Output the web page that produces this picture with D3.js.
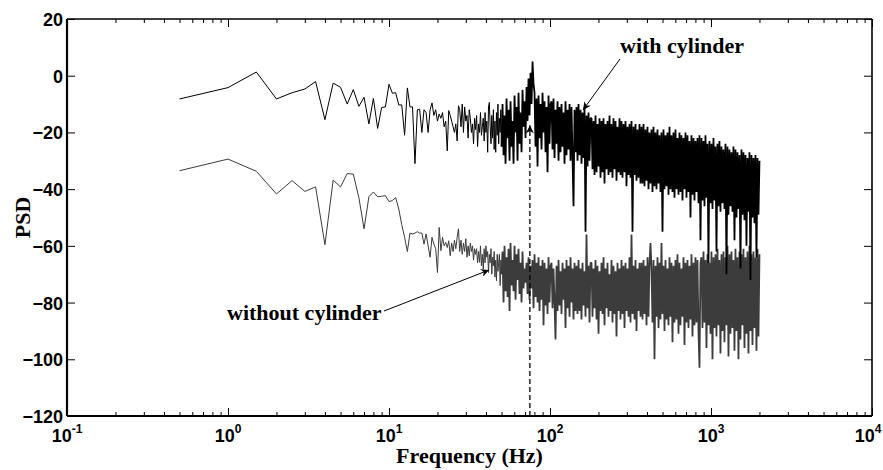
<!DOCTYPE html>
<html>
<head>
<meta charset="utf-8">
<script src="https://cdn.jsdelivr.net/npm/d3@7"></script>
<style>
  body { margin: 0; background: #fff; }
  .tick text { font-family: "Liberation Sans", Arial, sans-serif; font-weight: bold; font-size: 18px; fill: #000; }
  .ttl { font-family: "Liberation Serif", "Times New Roman", serif; font-weight: bold; font-size: 22px; fill: #000; }
</style>
</head>
<body>
<div id="chart"></div>
<script>
// values (PSD in dB)
// low part of the spectrum: 0.5 Hz .. 50 Hz every 0.5 Hz
var lowStep = 0.5;

var withLow = [
  -8.2, -4.2, 1.3, -8.2, -6, -4.7, -2.1, -15.5, -2.6, -4.1,
  -10, -4.9, -10.8, -7.6, -17, -8, -18.6, -11.2, -11, -3,
  -6.2, -6, -10.3, -10.3, -21, -4.3, -11, -11, -31, -12,
  -11.8, -20, -12, -13, -20, -12, -9.6, -14, -12, -16,
  -13.5, -15, -13, -18, -16, -26.5, -12.3, -14, -16, -18,
  -20, -17, -23, -10.6, -12, -18, -10, -20, -11, -16,
  -14, -22, -12, -15, -20, -17, -24, -15, -19, -14,
  -25, -17, -20, -13, -21, -18, -15, -23, -13, -20,
  -16, -27, -11, -9.4, -18, -24, -14, -22, -12, -26,
  -16, -27, -13, -21, -10, -24, -15, -20, -12, -25
];

var withoutLow = [
  -33.5, -29.4, -33.7, -41.7, -37, -40.8, -39.2, -59.6, -36.8, -39.2,
  -34.5, -34.7, -43, -54, -42.7, -41, -42.7, -42.5, -42.3, -44.4,
  -44, -43, -47, -52.5, -57, -62, -55.5, -55.8, -55.5, -55,
  -55.5, -55.5, -59.4, -55.8, -60, -64, -57, -59.4, -61, -69.4,
  -53.5, -61.7, -57, -60, -58.8, -60.6, -58.2, -63.5, -59, -62,
  -58, -61, -57, -54, -62, -58, -63, -59, -62, -57.5,
  -64, -60, -63.5, -59, -62, -60, -65, -61, -63, -61,
  -66, -62, -65.8, -60, -67, -63, -68.2, -61, -66, -60,
  -64, -62, -69.4, -63, -66, -61, -70, -64, -67, -62,
  -71, -65, -72.3, -63, -69, -66, -63, -74, -65, -70
];

// dense part: 50 Hz .. 2000 Hz, one value per screen column
var highStart = 50, highEnd = 2000;

var withHigh = [
  -10, -28, -14, -31, -8, -22, -12, -30, -9, -25, -16, -31, -7, -20, -11, -30, -6, -24, -13, -27, -5, -18, -9, -22,
  -4, -16, -1, -14, 1, -10, 5, -3, -6, -25,
  -8, -32, -7, -22, -10, -26, -6, -20, -9, -27, -11, -34, -7, -24, -10,
  -9, -26, -8, -29, -12, -24, -9, -30, -11, -27, -10, -25, -13, -31, -9, -28, -12, -26, -10, -30, -11, -29, -46, -12, -27,
  -11, -30, -10, -28, -12, -31, -13, -29, -11, -55, -14, -32, -13, -30, -15,
  -15, -33, -16, -35, -14, -34, -17, -32, -15, -36,
  -16, -34, -15, -38, -17, -33, -16, -35, -14, -34,
  -17, -36, -15, -33, -16, -37, -18, -34, -15, -35,
  -16, -36, -17, -34, -16, -39, -18, -35, -17, -36,
  -16, -55, -18, -35, -17, -37, -19, -36, -17, -38,
  -18, -38, -17, -39, -19, -37, -18, -40, -20, -38,
  -19, -41, -18, -39, -20, -40, -19, -38, -21, -41,
  -20, -55, -19, -40, -21, -39, -20, -42, -18, -40,
  -21, -41, -20, -43, -19, -40, -22, -42, -20, -41,
  -21, -44, -22, -40, -20, -43, -21, -41, -23, -50,
  -21, -42, -22, -44, -23, -41, -22, -45, -21, -58,
  -22, -44, -23, -46, -21, -43, -24, -66, -23, -45,
  -24, -47, -22, -44, -25, -62, -24, -46, -23, -48,
  -25, -45, -26, -47, -24, -70, -25, -49, -26, -46,
  -27, -48, -25, -58, -26, -50, -27, -47, -28, -68,
  -26, -49, -27, -51, -28, -60, -29, -48, -27, -72,
  -28, -50, -29, -52, -28, -64, -29, -49, -30
];

var withoutHigh = [
  -62, -80, -60, -76, -64, -78, -61, -83, -59, -74, -65, -76, -60, -79, -63, -72, -61, -77, -66, -80, -62, -75, -68, -73,
  -66, -77, -64, -79, -67, -75, -65, -82, -63, -78,
  -66, -80, -64, -83, -67, -79, -65, -88, -66, -81, -68, -84, -64, -80, -67,
  -66, -82, -68, -80, -93, -67, -83, -65, -81, -69, -84, -66, -79, -68, -89, -65, -82, -67, -85, -64, -80, -68, -86, -66, -83,
  -67, -84, -65, -83, -68, -86, -66, -81, -69, -85, -56, -82, -67, -87, -66,
  -66, -85, -68, -82, -65, -86, -67, -91, -69, -83,
  -66, -84, -64, -88, -68, -82, -66, -85, -70, -83,
  -65, -87, -67, -84, -69, -92, -66, -83, -68, -86,
  -65, -84, -67, -89, -66, -83, -68, -85, -64, -87,
  -56, -84, -67, -86, -65, -90, -68, -83, -66, -85,
  -66, -86, -65, -84, -67, -88, -64, -85, -66, -59,
  -68, -87, -65, -100, -67, -85, -64, -89, -66, -86,
  -59, -84, -67, -90, -65, -86, -68, -88, -64, -85,
  -66, -94, -67, -87, -65, -86, -63, -91, -66, -88,
  -68, -85, -64, -95, -66, -87, -65, -89, -67, -86,
  -63, -92, -66, -88, -64, -87, -65, -90, -103, -66,
  -64, -89, -62, -87, -65, -96, -63, -88, -66, -91,
  -62, -100, -64, -89, -63, -92, -61, -88, -65, -98,
  -63, -90, -62, -94, -64, -88, -60, -99, -63, -91,
  -62, -89, -65, -97, -61, -90, -64, -100, -62, -93,
  -63, -88, -61, -96, -64, -91, -62, -98, -60, -90,
  -63, -95, -62, -89, -64, -97, -61, -92, -63
];

var yTicks = [-120, -100, -80, -60, -40, -20, 0, 20];
var xDecades = [-1, 0, 1, 2, 3, 4];
var markFreq = 75, markLevel = -17.5;   // dashed arrow at the shedding peak

var W = 883, H = 470;
var pL = 67, pR = 872, pT = 19, pB = 416;

var svg = d3.select("#chart").append("svg")
  .attr("width", W)
  .attr("height", H);

var x = d3.scaleLog().domain([0.1, 10000]).range([pL, pR]);
var y = d3.scaleLinear().domain([-120, 20]).range([pB, pT]);

// low and dense parts as point lists; the dense one starts at the last low point
function lowPart(vals) {
  return vals.map(function(v, i) { return {f: (i + 1) * lowStep, v: v}; });
}
function highPart(lowVals, vals) {
  var n = vals.length;
  var pts = [{f: lowVals.length * lowStep, v: lowVals[lowVals.length - 1]}];
  vals.forEach(function(v, i) {
    pts.push({f: highStart * Math.pow(highEnd / highStart, (i + 1) / n), v: v});
  });
  return pts;
}

var line = d3.line()
  .x(function(d) { return x(d.f); })
  .y(function(d) { return y(d.v); });

function drawSeries(lowVals, highVals, colour) {
  svg.append("path")
    .datum(lowPart(lowVals))
    .attr("d", line)
    .attr("fill", "none")
    .attr("stroke", colour)
    .attr("stroke-width", 1);
  svg.append("path")
    .datum(highPart(lowVals, highVals))
    .attr("d", line)
    .attr("fill", "none")
    .attr("stroke", colour)
    .attr("stroke-width", 1.8)
    .attr("stroke-linejoin", "bevel");
}

drawSeries(withoutLow, withoutHigh, "#3c3c3c");
drawSeries(withLow, withHigh, "#000");

// minor ticks 2..9 in each decade
var minor = [];
xDecades.slice(0, -1).forEach(function(k) {
  for (var m = 2; m <= 9; m++) minor.push(m * Math.pow(10, k));
});
var major = xDecades.map(function(k) { return Math.pow(10, k); });

function tickGroup(axis, tr) {
  var g = svg.append("g").attr("transform", tr).call(axis);
  g.select(".domain").remove();
  g.selectAll("line").attr("stroke", "#000").attr("stroke-width", 1);
  g.selectAll("text").attr("dy", "0.36em");
  return g;
}

tickGroup(d3.axisTop(x).tickValues(major).tickSize(8).tickFormat(""), "translate(0," + pB + ")");
tickGroup(d3.axisTop(x).tickValues(minor).tickSize(4).tickFormat(""), "translate(0," + pB + ")");
tickGroup(d3.axisBottom(x).tickValues(major).tickSize(8).tickFormat(""), "translate(0," + pT + ")");
tickGroup(d3.axisBottom(x).tickValues(minor).tickSize(4).tickFormat(""), "translate(0," + pT + ")");
tickGroup(d3.axisLeft(y).tickValues(yTicks).tickSize(-8).tickPadding(4), "translate(" + pL + ",0)");
tickGroup(d3.axisLeft(y).tickValues(yTicks).tickSize(8).tickFormat(""), "translate(" + pR + ",0)");

// frame
svg.append("line").attr("x1", pL).attr("x2", pR).attr("y1", pT).attr("y2", pT)
  .attr("stroke", "#000").attr("stroke-width", 1.6);
svg.append("line").attr("x1", pR).attr("x2", pR).attr("y1", pT).attr("y2", pB)
  .attr("stroke", "#000").attr("stroke-width", 1.6);
svg.append("line").attr("x1", pL).attr("x2", pR).attr("y1", pB).attr("y2", pB)
  .attr("stroke", "#000").attr("stroke-width", 2.2);
svg.append("line").attr("x1", pL).attr("x2", pL).attr("y1", pT).attr("y2", pB)
  .attr("stroke", "#000").attr("stroke-width", 2.2);

// x tick labels 10^k
var xl = svg.append("g").attr("class", "tick");
xDecades.forEach(function(k) {
  var t = xl.append("text")
    .attr("x", x(Math.pow(10, k)) - (k === 4 ? 4 : 0))
    .attr("y", 442)
    .attr("text-anchor", "middle");
  t.append("tspan").text("10");
  t.append("tspan").attr("dy", -9).style("font-size", "12px").text(k);
});

// dashed marker with arrow
var defs = svg.append("defs");
defs.append("marker")
  .attr("id", "head")
  .attr("viewBox", "0 0 10 10")
  .attr("refX", 10).attr("refY", 5)
  .attr("markerWidth", 10).attr("markerHeight", 8)
  .attr("markerUnits", "userSpaceOnUse")
  .attr("orient", "auto")
  .append("path").attr("d", "M0,0 L10,5 L0,10 L3,5 Z").attr("fill", "#000");

svg.append("line")
  .attr("x1", x(markFreq)).attr("x2", x(markFreq))
  .attr("y1", y(-120)).attr("y2", y(markLevel))
  .attr("stroke", "#000").attr("stroke-width", 1.3)
  .attr("stroke-dasharray", "5,3")
  .attr("marker-end", "url(#head)");

// annotations
svg.append("text").attr("class", "ttl").attr("x", 620).attr("y", 53).text("with cylinder");
svg.append("line").attr("x1", 620).attr("y1", 59).attr("x2", 583).attr("y2", 110)
  .attr("stroke", "#000").attr("stroke-width", 1).attr("marker-end", "url(#head)");

svg.append("text").attr("class", "ttl").attr("x", 227).attr("y", 320).text("without cylinder");
svg.append("line").attr("x1", 384).attr("y1", 311).attr("x2", 489).attr("y2", 270)
  .attr("stroke", "#000").attr("stroke-width", 1).attr("marker-end", "url(#head)");

// axis titles
svg.append("text").attr("class", "ttl")
  .attr("x", (pL + pR) / 2).attr("y", 463)
  .attr("text-anchor", "middle")
  .text("Frequency (Hz)");

svg.append("text").attr("class", "ttl")
  .attr("transform", "translate(30," + ((pT + pB) / 2) + ") rotate(-90)")
  .attr("text-anchor", "middle")
  .text("PSD");
</script>
</body>
</html>
